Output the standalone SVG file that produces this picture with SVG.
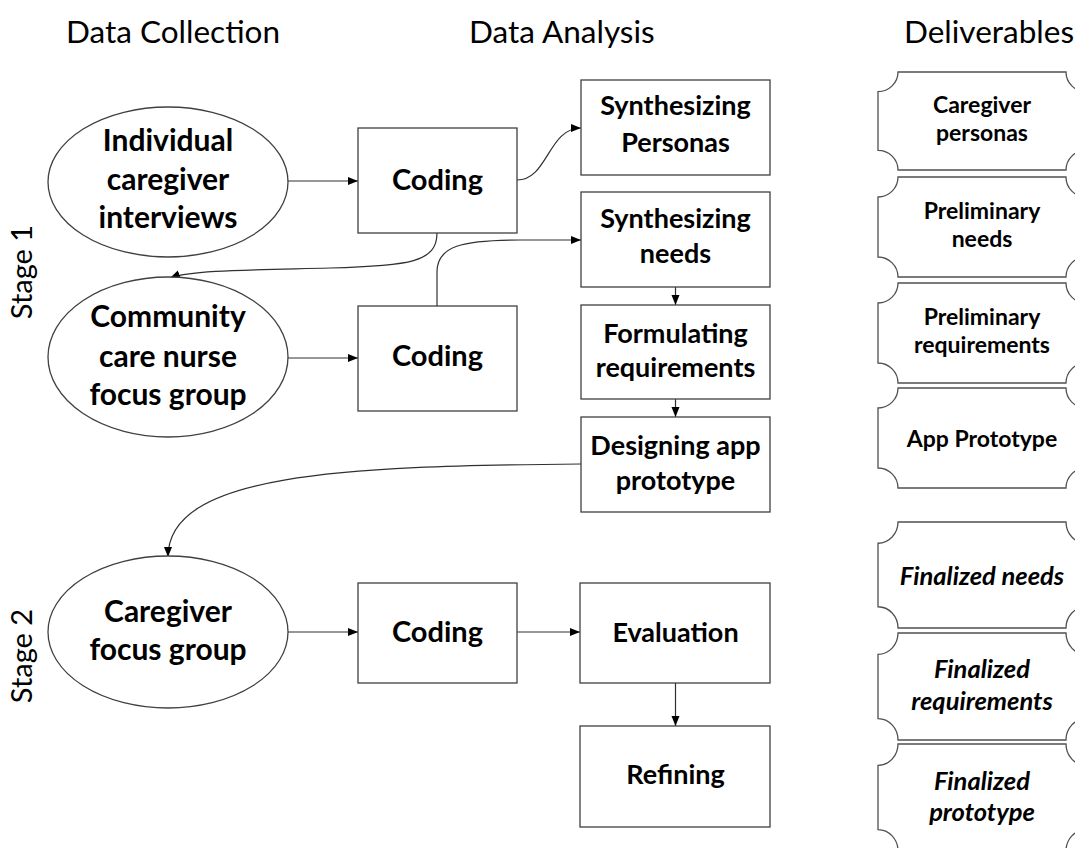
<svg xmlns="http://www.w3.org/2000/svg" width="1075" height="848" viewBox="0 0 1075 848">
<style>
.hdr{font-family:Lato,"Liberation Sans",sans-serif;font-size:31.5px;fill:#000}
.stg{font-family:Lato,"Liberation Sans",sans-serif;font-size:29px;fill:#000}
.el{fill:#fff;stroke:#404040;stroke-width:1.3}
.bx{fill:#fff;stroke:#404040;stroke-width:1.3}
.dl{fill:#fff;stroke:#505050;stroke-width:1.3}
.t1{font-family:Lato,"Liberation Sans",sans-serif;font-weight:bold;font-size:30px;fill:#000;text-anchor:middle}
.t2{font-family:Lato,"Liberation Sans",sans-serif;font-weight:bold;font-size:27px;fill:#000;text-anchor:middle}
.tc{font-family:Lato,"Liberation Sans",sans-serif;font-weight:bold;font-size:29px;fill:#000;text-anchor:middle}
.t3{font-family:Lato,"Liberation Sans",sans-serif;font-weight:bold;font-size:23px;fill:#000;text-anchor:middle}
.t3i{font-family:Lato,"Liberation Sans",sans-serif;font-weight:bold;font-style:italic;font-size:25.5px;fill:#000;text-anchor:middle}
.cn{fill:none;stroke:#303030;stroke-width:1.2}
</style>
<defs>
<marker id="ah" markerUnits="userSpaceOnUse" markerWidth="10" markerHeight="10" viewBox="0 0 10 10" refX="10" refY="5" orient="auto">
<path d="M0,1 L10,5 L0,9 Z" fill="#000"/>
</marker>
<path id="deliv" d="M0,20 A20,20 0 0 0 20,0 L188,0 A20,20 0 0 0 208,20 L208,80 A20,20 0 0 0 188,100 L20,100 A20,20 0 0 0 0,80 Z"/>
</defs>
<rect width="1075" height="848" fill="#fff"/>

<g id="headers">
<text class="hdr" x="66" y="43">Data Collection</text>
<text class="hdr" x="469" y="43">Data Analysis</text>
<text class="hdr" x="904" y="43">Deliverables</text>
</g>
<g id="stages">
<text class="stg" transform="translate(32,272) rotate(-90)" text-anchor="middle">Stage 1</text>
<text class="stg" transform="translate(32,656) rotate(-90)" text-anchor="middle">Stage 2</text>
</g>

<g id="connectors">
<line class="cn" x1="287" y1="181" x2="358" y2="181" marker-end="url(#ah)"/>
<line class="cn" x1="287" y1="358" x2="358" y2="358" marker-end="url(#ah)"/>
<line class="cn" x1="287" y1="632" x2="358" y2="632" marker-end="url(#ah)"/>
<line class="cn" x1="517" y1="632" x2="580" y2="632" marker-end="url(#ah)"/>
<line class="cn" x1="675.5" y1="287" x2="675.5" y2="305" marker-end="url(#ah)"/>
<line class="cn" x1="675.5" y1="399" x2="675.5" y2="417" marker-end="url(#ah)"/>
<line class="cn" x1="675.5" y1="683" x2="675.5" y2="726" marker-end="url(#ah)"/>
<path class="cn" d="M517,180 C548,180 548,128 581,128" marker-end="url(#ah)"/>
<path class="cn" d="M437,233 C437,262 410,266 330,268 S190,270 170,278" marker-end="url(#ah)"/>
<path class="cn" d="M437,306 L437,272 C437,246 462,240 520,240 L581,240" marker-end="url(#ah)"/>
<path class="cn" d="M581,464 C340,466 168,474 168,557" marker-end="url(#ah)"/>
</g>

<g id="n-interviews">
<ellipse class="el" cx="168" cy="182" rx="120" ry="75"/>
<text class="t1" x="168" y="151">Individual</text>
<text class="t1" x="168" y="190">caregiver</text>
<text class="t1" x="168" y="228">interviews</text>
</g>
<g id="n-nurse">
<ellipse class="el" cx="168" cy="357" rx="120" ry="80"/>
<text class="t1" x="168" y="327">Community</text>
<text class="t1" x="168" y="367">care nurse</text>
<text class="t1" x="168" y="405">focus group</text>
</g>
<g id="n-cgfocus">
<ellipse class="el" cx="168" cy="632" rx="120" ry="76"/>
<text class="t1" x="168" y="622">Caregiver</text>
<text class="t1" x="168" y="660">focus group</text>
</g>

<g id="n-coding1">
<rect class="bx" x="358" y="128" width="159" height="105"/>
<text class="tc" x="437.5" y="190">Coding</text>
</g>
<g id="n-coding2">
<rect class="bx" x="358" y="306" width="159" height="105"/>
<text class="tc" x="437.5" y="366">Coding</text>
</g>
<g id="n-coding3">
<rect class="bx" x="358" y="583" width="159" height="100"/>
<text class="tc" x="437.5" y="642">Coding</text>
</g>

<g id="n-personas">
<rect class="bx" x="581" y="80" width="189" height="95"/>
<text class="t2" x="675.5" y="115">Synthesizing</text>
<text class="t2" x="675.5" y="152">Personas</text>
</g>
<g id="n-needs">
<rect class="bx" x="581" y="192" width="189" height="95"/>
<text class="t2" x="675.5" y="228">Synthesizing</text>
<text class="t2" x="675.5" y="263">needs</text>
</g>
<g id="n-requirements">
<rect class="bx" x="581" y="305" width="189" height="94"/>
<text class="t2" x="675.5" y="343">Formulating</text>
<text class="t2" x="675.5" y="377">requirements</text>
</g>
<g id="n-prototype">
<rect class="bx" x="581" y="417" width="189" height="95"/>
<text class="t2" x="675.5" y="455">Designing app</text>
<text class="t2" x="675.5" y="490">prototype</text>
</g>
<g id="n-evaluation">
<rect class="bx" x="580" y="583" width="190" height="100"/>
<text class="t2" x="675.5" y="642">Evaluation</text>
</g>
<g id="n-refining">
<rect class="bx" x="580" y="726" width="190" height="101"/>
<text class="t2" x="675.5" y="784">Refining</text>
</g>

<g id="d-personas">
<use href="#deliv" class="dl" transform="translate(878,72) scale(1,0.98)"/>
<text class="t3" x="982" y="113">Caregiver</text>
<text class="t3" x="982" y="141">personas</text>
</g>
<g id="d-needs">
<use href="#deliv" class="dl" transform="translate(878,177)"/>
<text class="t3" x="982" y="219">Preliminary</text>
<text class="t3" x="982" y="247">needs</text>
</g>
<g id="d-requirements">
<use href="#deliv" class="dl" transform="translate(878,283)"/>
<text class="t3" x="982" y="325">Preliminary</text>
<text class="t3" x="982" y="353">requirements</text>
</g>
<g id="d-prototype">
<use href="#deliv" class="dl" transform="translate(878,388)"/>
<text class="t3" x="982" y="447">App Prototype</text>
</g>
<g id="d-fneeds">
<use href="#deliv" class="dl" transform="translate(878,522) scale(1,1.06)"/>
<text class="t3i" x="982" y="585">Finalized needs</text>
</g>
<g id="d-freq">
<use href="#deliv" class="dl" transform="translate(878,633) scale(1,1.07)"/>
<text class="t3i" x="982" y="678">Finalized</text>
<text class="t3i" x="982" y="710">requirements</text>
</g>
<g id="d-fproto">
<use href="#deliv" class="dl" transform="translate(878,744) scale(1,1.07)"/>
<text class="t3i" x="982" y="790">Finalized</text>
<text class="t3i" x="982" y="821">prototype</text>
</g>
</svg>
